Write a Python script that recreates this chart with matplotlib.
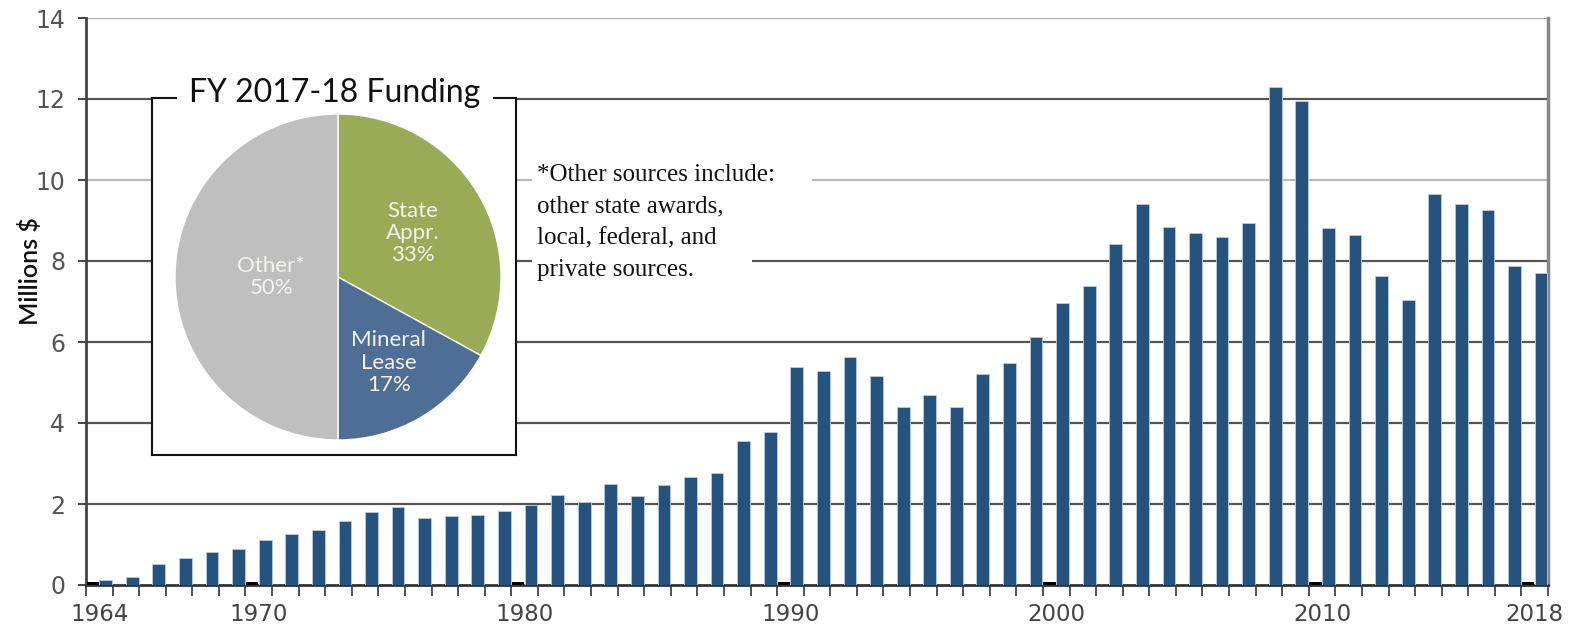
import numpy as np
import matplotlib
matplotlib.use("Agg")
import matplotlib.pyplot as plt
from matplotlib.patches import Rectangle

# ---------------- data ----------------
years = list(range(1964, 2019))
funding = [0.12, 0.19, 0.51, 0.67, 0.82, 0.89, 1.11, 1.26, 1.36, 1.59,
           1.80, 1.93, 1.65, 1.71, 1.74, 1.83, 1.98, 2.21, 2.06, 2.50,
           2.19, 2.47, 2.67, 2.76, 3.55, 3.77, 5.38, 5.29, 5.64, 5.16,
           4.40, 4.68, 4.40, 5.20, 5.47, 6.12, 6.97, 7.38, 8.43, 9.41,
           8.84, 8.68, 8.59, 8.93, 12.30, 11.94, 8.81, 8.65, 7.63, 7.04,
           9.66, 9.41, 9.27, 7.88, 7.70]
label_years = [1964, 1970, 1980, 1990, 2000, 2010, 2018]
marker_value = 0.07
yticks = [0, 2, 4, 6, 8, 10, 12, 14]

pie_labels = ["State\nAppr.\n33%", "Mineral\nLease\n17%", "Other*\n50%"]
pie_values = [33, 17, 50]
pie_title = "FY 2017-18 Funding"
note_lines = ["*Other sources include:", "other state awards,",
              "local, federal, and", "private sources."]

# ---------------- figure ----------------
W, H = 1577, 627
fig = plt.figure(figsize=(W / 100, H / 100), dpi=100)
fx = lambda x: x / W
fy = lambda y: 1 - y / H

ax = fig.add_axes([fx(86), fy(585), fx(1548) - fx(86), fy(18) - fy(585)])
idx = np.arange(len(years))
ax.bar(idx + 0.5, funding, width=0.48, align='edge', color='#25537e',
       edgecolor='#b9cde0', linewidth=0.6, zorder=3)
mk = [years.index(y) for y in label_years]
ax.bar(np.array(mk) + 0.02, [marker_value] * len(mk), width=0.46, align='edge',
       color='black', zorder=4)

ax.set_xlim(0, len(years))
ax.set_ylim(0, 14)

grid_cols = {0: '#333333', 2: '#555555', 4: '#555555', 6: '#555555',
             8: '#555555', 10: '#bbbbbb', 12: '#555555', 14: '#aaaaaa'}
for v in yticks[1:]:
    ax.axhline(v, color=grid_cols[v], lw=1.6, zorder=1)

ax.set_yticks(yticks)
ax.set_yticklabels([str(v) for v in yticks], fontsize=17, color='#555555',
                   family='DejaVu Sans')
ax.tick_params(axis='y', length=6, width=1.4, color='#444444', pad=9)

ax.set_xticks(np.array(mk) + 0.5)
ax.set_xticklabels([str(y) for y in label_years], fontsize=16.5, color='#444444',
                   family='DejaVu Sans')
ax.set_xticks(np.arange(len(years) + 1), minor=True)
ax.tick_params(axis='x', which='major', length=0, pad=13)
ax.tick_params(axis='x', which='minor', length=8, width=1.2, color='#333333')

ax.spines['top'].set_visible(False)
ax.spines['left'].set_color('#444444')
ax.spines['left'].set_linewidth(2)
ax.spines['bottom'].set_color('#333333')
ax.spines['bottom'].set_linewidth(2)
ax.spines['right'].set_color('#888888')
ax.spines['right'].set_linewidth(2.5)

fig.text(fx(30), fy(271), "Millions $", rotation=90, ha='center', va='center',
         fontsize=18, family='Lato', fontweight='semibold', color='#111111')

# ---------------- note text ----------------
fig.patches.append(Rectangle((fx(532), fy(225)), fx(812) - fx(532), fy(150) - fy(225),
                             transform=fig.transFigure, facecolor='white',
                             edgecolor='none', zorder=2))
fig.patches.append(Rectangle((fx(532), fy(292)), fx(752) - fx(532), fy(225) - fy(292),
                             transform=fig.transFigure, facecolor='white',
                             edgecolor='none', zorder=2))
for i, line in enumerate(note_lines):
    fig.text(fx(537), fy(181 + i * 31.7), line, ha='left', va='baseline',
             fontsize=18, family='Liberation Serif', color='#111111', zorder=5)

# ---------------- inset ----------------
inset = fig.add_axes([fx(152), fy(455), fx(516) - fx(152), fy(98) - fy(455)])
inset.set_xticks([])
inset.set_yticks([])
inset.set_facecolor('white')
for s in inset.spines.values():
    s.set_color('#111111')
    s.set_linewidth(1.5)
inset.set_zorder(3)

fig.text(fx(335), fy(102), pie_title, ha='center', va='baseline', fontsize=23,
         family='Lato', color='#111111', zorder=6,
         bbox=dict(boxstyle='square,pad=0.4', facecolor='white', edgecolor='none'))

pax = fig.add_axes([fx(338 - 163), fy(277 + 163), fx(326), 326 / H])
pax.set_zorder(7)
wedges, _ = pax.pie(pie_values, colors=['#9aab55', '#4e6e96', '#bfbfbf'],
                    startangle=90, counterclock=False,
                    wedgeprops=dict(edgecolor='white', linewidth=1.0))
pax.set_xlim(-1.0, 1.0)
pax.set_ylim(-1.0, 1.0)
pax.set_aspect('equal')
pax.axis('off')
label_r = [0.53, 0.61, 0.41]
for w, lab, r in zip(wedges, pie_labels, label_r):
    ang = np.deg2rad((w.theta1 + w.theta2) / 2)
    pax.text(r * np.cos(ang), r * np.sin(ang), lab, ha='center', va='center',
             fontsize=16, family='Lato', color='#f3f3ef', linespacing=1.15)

fig.savefig('out.png', dpi=100)
